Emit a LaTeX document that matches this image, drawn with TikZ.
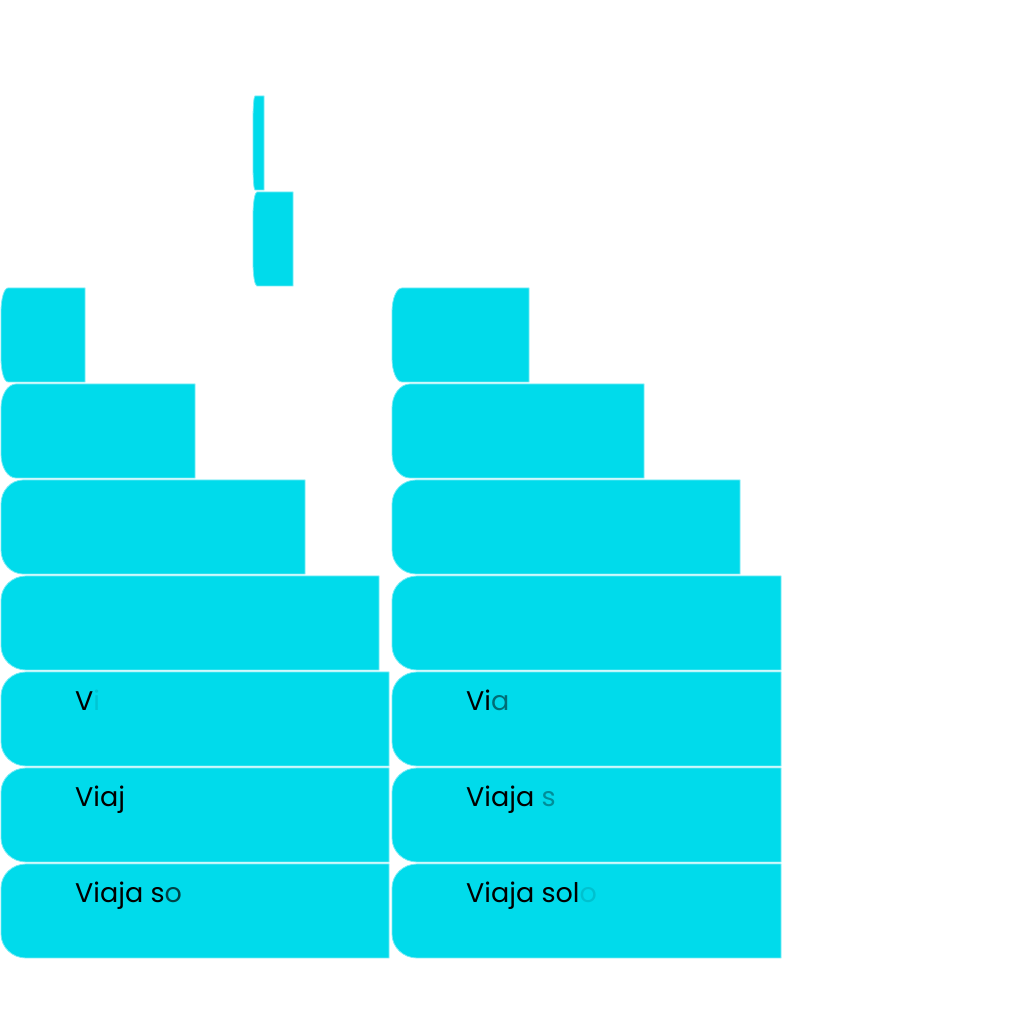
\documentclass[tikz,border=0pt]{standalone}
\usepackage{fontspec}
\setmainfont{Poppins}
\usepackage{tikz}
\usetikzlibrary{positioning}

\definecolor{barfill}{RGB}{0,219,235}
\definecolor{barline}{RGB}{120,235,245}
% glyphs that are still fading in
\colorlet{fadeLi}{black!10!barfill}
\colorlet{fadeLo}{black!70!barfill}
\colorlet{fadeRa}{black!50!barfill}
\colorlet{fadeRs}{black!35!barfill}
\colorlet{fadeRo}{black!12!barfill}

% left, right, top, bottom, x radius of the two left corners
\newcommand{\typebar}[5]{%
  \filldraw[bar] (#2,#3) -- (#2,#4) -- ({#1+#5},#4)
    arc[start angle=270, end angle=180, x radius=#5, y radius=24]
    -- (#1,{#3-24})
    arc[start angle=180, end angle=90, x radius=#5, y radius=24] -- cycle;
}

\begin{document}
\begin{tikzpicture}[x=1pt, y=1pt,
    bar/.style={fill=barfill, draw=barline, line width=0.8pt},
    typed/.style={anchor=base west, inner sep=0pt, font=\fontsize{27}{32}\selectfont}]
    \useasboundingbox (0,0) rectangle (1024,1024);
    % Growing bar (first frames)
    \typebar{253}{264}{928}{834}{2}
    \typebar{253}{293}{832}{738}{4}
    % Both columns, row by row
    \foreach \row/\lr/\lrx/\rr/\rrx in {3/85/7/529/10, 4/195/15/644/18,
        5/305/22/740/24, 6/379/25/781/25, 7/389/25/781/25,
        8/389/25/781/25, 9/389/25/781/25} {
        \pgfmathsetmacro{\top}{1024-96*\row}
        \pgfmathsetmacro{\bot}{930-96*\row}
        \typebar{1}{\lr}{\top}{\bot}{\lrx}
        \typebar{392}{\rr}{\top}{\bot}{\rrx}
    }
    % Typed text, left column
    \node[typed] (typeL7) at (75,313) {V\textcolor{fadeLi}{i}};
    \node[typed] (typeL8) at (75,217) {Viaj};
    \node[typed] (typeL9) at (75,121) {Viaja s\textcolor{fadeLo}{o}};
    % Typed text, right column
    \node[typed] (typeR7) at (466,313) {Vi\textcolor{fadeRa}{a}};
    \node[typed] (typeR8) at (466,217) {Viaja \textcolor{fadeRs}{s}};
    \node[typed] (typeR9) at (466,121) {Viaja sol\textcolor{fadeRo}{o}};
\end{tikzpicture}
\end{document}
